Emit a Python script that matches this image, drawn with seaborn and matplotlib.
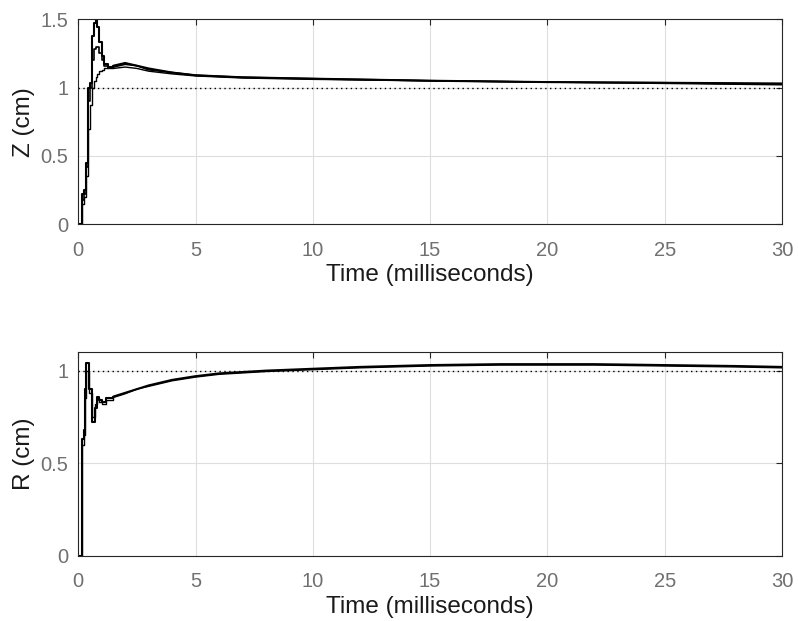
import numpy as np
import pandas as pd
import matplotlib
matplotlib.use("Agg")
import matplotlib.pyplot as plt
import seaborn as sns

# Z response (three runs), time in ms
t_z = [0, 0.12, 0.18, 0.25, 0.32, 0.4, 0.5, 0.6, 0.68, 0.75, 0.82, 0.9, 1.0, 1.1, 1.25, 1.5,
       2.0, 2.5, 3.0, 4.0, 5.0, 7.0, 10.0, 15.0, 20.0, 25.0, 30.0]
z_a = [0, 0.0, 0.22, 0.25, 0.45, 1.0, 1.03, 1.38, 1.47, 1.5, 1.44, 1.33, 1.23, 1.17, 1.15, 1.16,
       1.18, 1.16, 1.14, 1.11, 1.09, 1.075, 1.065, 1.05, 1.04, 1.035, 1.03]
z_b = [0, 0.0, 0.18, 0.22, 0.42, 0.9, 1.0, 1.2, 1.28, 1.3, 1.3, 1.25, 1.2, 1.16, 1.14, 1.15,
       1.17, 1.16, 1.13, 1.11, 1.09, 1.075, 1.065, 1.05, 1.04, 1.035, 1.025]
z_c = [0, 0.0, 0.15, 0.2, 0.35, 0.7, 0.87, 1.0, 1.05, 1.08, 1.1, 1.12, 1.13, 1.14, 1.14, 1.14,
       1.15, 1.14, 1.12, 1.1, 1.085, 1.07, 1.06, 1.05, 1.04, 1.03, 1.02]

# R response (two runs)
t_r = [0, 0.12, 0.18, 0.25, 0.3, 0.35, 0.45, 0.6, 0.7, 0.8, 0.9, 1.0, 1.2, 1.5, 2.0, 2.5, 3.0,
       4.0, 5.0, 6.0, 8.0, 10.0, 12.0, 15.0, 18.0, 22.0, 25.0, 28.0, 30.0]
r_a = [0, 0.0, 0.63, 0.68, 0.9, 1.04, 0.9, 0.72, 0.8, 0.86, 0.84, 0.83, 0.85, 0.86, 0.88, 0.9, 0.92,
       0.95, 0.97, 0.985, 1.0, 1.01, 1.02, 1.03, 1.035, 1.035, 1.03, 1.025, 1.02]
r_b = [0, 0.0, 0.6, 0.65, 0.85, 1.0, 0.88, 0.75, 0.82, 0.85, 0.83, 0.82, 0.84, 0.855, 0.875, 0.9, 0.915,
       0.945, 0.965, 0.98, 0.995, 1.005, 1.015, 1.025, 1.03, 1.03, 1.025, 1.02, 1.015]

ref_t = [0, 30]
ref_v = [1, 1]

# stairs for the early transient, smooth afterwards
T_SPLIT = 1.5

sns.set_style("white")
plt.rcParams['font.family'] = ['Liberation Sans', 'DejaVu Sans']

fig = plt.figure(figsize=(7.98, 6.21), dpi=100)
ax1 = fig.add_axes([0.098, 0.639, 0.882, 0.330])
ax2 = fig.add_axes([0.098, 0.105, 0.882, 0.328])


def draw_trace(ax, t, v, lw):
    df = pd.DataFrame({"t": t, "v": v})
    early = df[df.t <= T_SPLIT]
    late = df[df.t >= T_SPLIT]
    sns.lineplot(data=early, x="t", y="v", ax=ax, color="black", linewidth=lw,
                 drawstyle="steps-post", sort=False)
    sns.lineplot(data=late, x="t", y="v", ax=ax, color="black", linewidth=lw, sort=False)


def style_axis(ax, ylim, yticks, ylabels, ylab):
    ax.set_xlim(0, 30)
    ax.set_ylim(*ylim)
    ax.set_xticks([0, 5, 10, 15, 20, 25, 30])
    ax.set_xticklabels(["0", "5", "10", "15", "20", "25", "30"])
    ax.set_yticks(yticks)
    ax.set_yticklabels(ylabels)
    ax.grid(True, color="#dedede", linewidth=0.8)
    ax.set_axisbelow(True)
    ax.tick_params(direction="in", length=4, colors="#262626", labelcolor="#707070",
                   labelsize=14.5, top=True, right=True)
    ax.tick_params(axis="x", pad=12)
    ax.tick_params(axis="y", pad=7)
    for sp in ax.spines.values():
        sp.set_color("#262626")
        sp.set_linewidth(0.8)
    ax.set_xlabel("Time (milliseconds)", fontsize=17.5, labelpad=3, color="#1a1a1a")
    ax.set_ylabel(ylab, fontsize=17.5, labelpad=4, color="#1a1a1a")


for vals, lw in [(z_c, 1.0), (z_b, 1.2), (z_a, 1.5)]:
    draw_trace(ax1, t_z, vals, lw)
sns.lineplot(x=ref_t, y=ref_v, ax=ax1, color="black", linewidth=1.0, linestyle=(0, (1, 2.5)))
style_axis(ax1, (0, 1.5), [0, 0.5, 1, 1.5], ["0", "0.5", "1", "1.5"], "Z (cm)")

for vals, lw in [(r_b, 1.0), (r_a, 1.5)]:
    draw_trace(ax2, t_r, vals, lw)
sns.lineplot(x=ref_t, y=ref_v, ax=ax2, color="black", linewidth=1.0, linestyle=(0, (1, 2.5)))
style_axis(ax2, (0, 1.1), [0, 0.5, 1], ["0", "0.5", "1"], "R (cm)")

fig.savefig("out.png", dpi=100)
